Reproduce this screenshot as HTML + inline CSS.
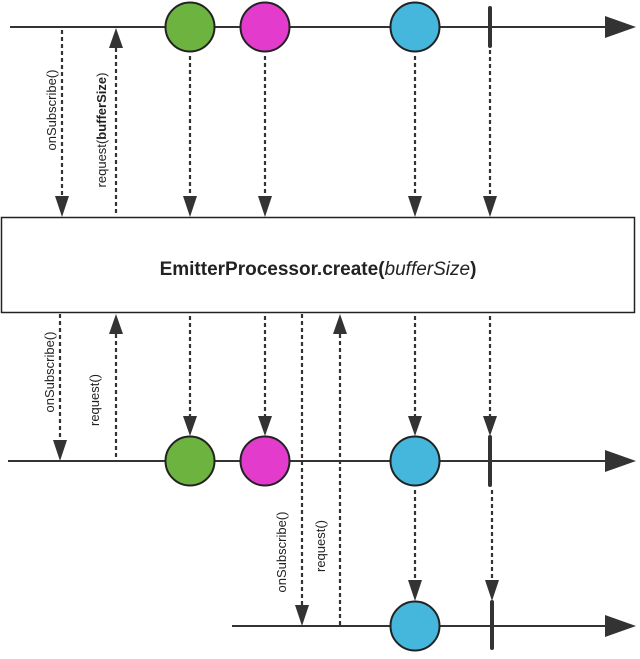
<!DOCTYPE html>
<html><head><meta charset="utf-8"><style>html,body{margin:0;padding:0;background:#fff}</style></head>
<body>
<svg width="640" height="654" xmlns="http://www.w3.org/2000/svg" font-family="Liberation Sans, sans-serif">
<defs>
<marker id="a" viewBox="0 0 10 10" refX="10" refY="5" markerWidth="5" markerHeight="5" orient="auto" markerUnits="userSpaceOnUse"></marker>
</defs>
<g stroke="#333" stroke-width="2" fill="none">
<line x1="10" y1="27" x2="608" y2="27"/>
<line x1="8" y1="461" x2="608" y2="461"/>
<line x1="232" y1="626" x2="608" y2="626"/>
</g>
<g fill="#333">
<polygon points="605,16 636,27 605,38"/>
<polygon points="605,450 636,461 605,472"/>
<polygon points="605,615 636,626 605,637"/>
</g>
<g stroke="#333" stroke-width="2.2" stroke-dasharray="4,3" fill="none">
<line x1="62" y1="30" x2="62" y2="200"/>
<line x1="116" y1="48" x2="116" y2="216"/>
<line x1="190" y1="56" x2="190" y2="200"/>
<line x1="265" y1="56" x2="265" y2="200"/>
<line x1="415" y1="56" x2="415" y2="200"/>
<line x1="490" y1="50" x2="490" y2="200"/>
<line x1="60" y1="314" x2="60" y2="444"/>
<line x1="116" y1="334" x2="116" y2="460"/>
<line x1="190" y1="316" x2="190" y2="420"/>
<line x1="265" y1="316" x2="265" y2="420"/>
<line x1="415" y1="316" x2="415" y2="420"/>
<line x1="490" y1="316" x2="490" y2="420"/>
<line x1="302" y1="314" x2="302" y2="608"/>
<line x1="340" y1="334" x2="340" y2="625"/>
<line x1="415" y1="490" x2="415" y2="584"/>
<line x1="492" y1="490" x2="492" y2="584"/>
</g>
<g fill="#333">
<polygon points="55,196 69,196 62,217"/>
<polygon points="109,48 123,48 116,28"/>
<polygon points="183,196 197,196 190,217"/>
<polygon points="258,196 272,196 265,217"/>
<polygon points="408,196 422,196 415,217"/>
<polygon points="483,196 497,196 490,217"/>
<polygon points="53,440 67,440 60,461"/>
<polygon points="109,334 123,334 116,314"/>
<polygon points="183,416 197,416 190,436"/>
<polygon points="258,416 272,416 265,436"/>
<polygon points="408,416 422,416 415,436"/>
<polygon points="483,416 497,416 490,436"/>
<polygon points="295,605 309,605 302,626"/>
<polygon points="333,334 347,334 340,314"/>
<polygon points="408,580 422,580 415,601"/>
<polygon points="485,580 499,580 492,601"/>
</g>
<rect x="1.5" y="217.5" width="633" height="95" fill="#fff" stroke="#222" stroke-width="1.5"/>
<text x="318" y="275" text-anchor="middle" font-size="19" font-weight="bold" fill="#222">EmitterProcessor.create(<tspan font-style="italic" font-weight="normal">bufferSize</tspan>)</text>
<g stroke="#222" stroke-width="2">
<circle cx="190" cy="27" r="24.5" fill="#6db33f"/>
<circle cx="265" cy="27" r="24.5" fill="#e33ccd"/>
<circle cx="415" cy="27" r="24.5" fill="#45b7dc"/>
<circle cx="190" cy="461" r="24.5" fill="#6db33f"/>
<circle cx="265" cy="461" r="24.5" fill="#e33ccd"/>
<circle cx="415" cy="461" r="24.5" fill="#45b7dc"/>
<circle cx="415" cy="626" r="24.5" fill="#45b7dc"/>
</g>
<g stroke="#333" stroke-width="4" stroke-linecap="round">
<line x1="490" y1="8" x2="490" y2="46"/>
<line x1="490" y1="437" x2="490" y2="485"/>
<line x1="492" y1="602" x2="492" y2="648"/>
</g>
<g font-size="13" fill="#222">
<text transform="translate(56,110) rotate(-90)" text-anchor="middle">onSubscribe()</text>
<text transform="translate(106,130) rotate(-90)" text-anchor="middle">request(<tspan font-weight="bold">bufferSize</tspan>)</text>
<text transform="translate(54,372) rotate(-90)" text-anchor="middle">onSubscribe()</text>
<text transform="translate(99,400) rotate(-90)" text-anchor="middle">request()</text>
<text transform="translate(286,552) rotate(-90)" text-anchor="middle">onSubscribe()</text>
<text transform="translate(325,546) rotate(-90)" text-anchor="middle">request()</text>
</g>
</svg>
</body></html>
